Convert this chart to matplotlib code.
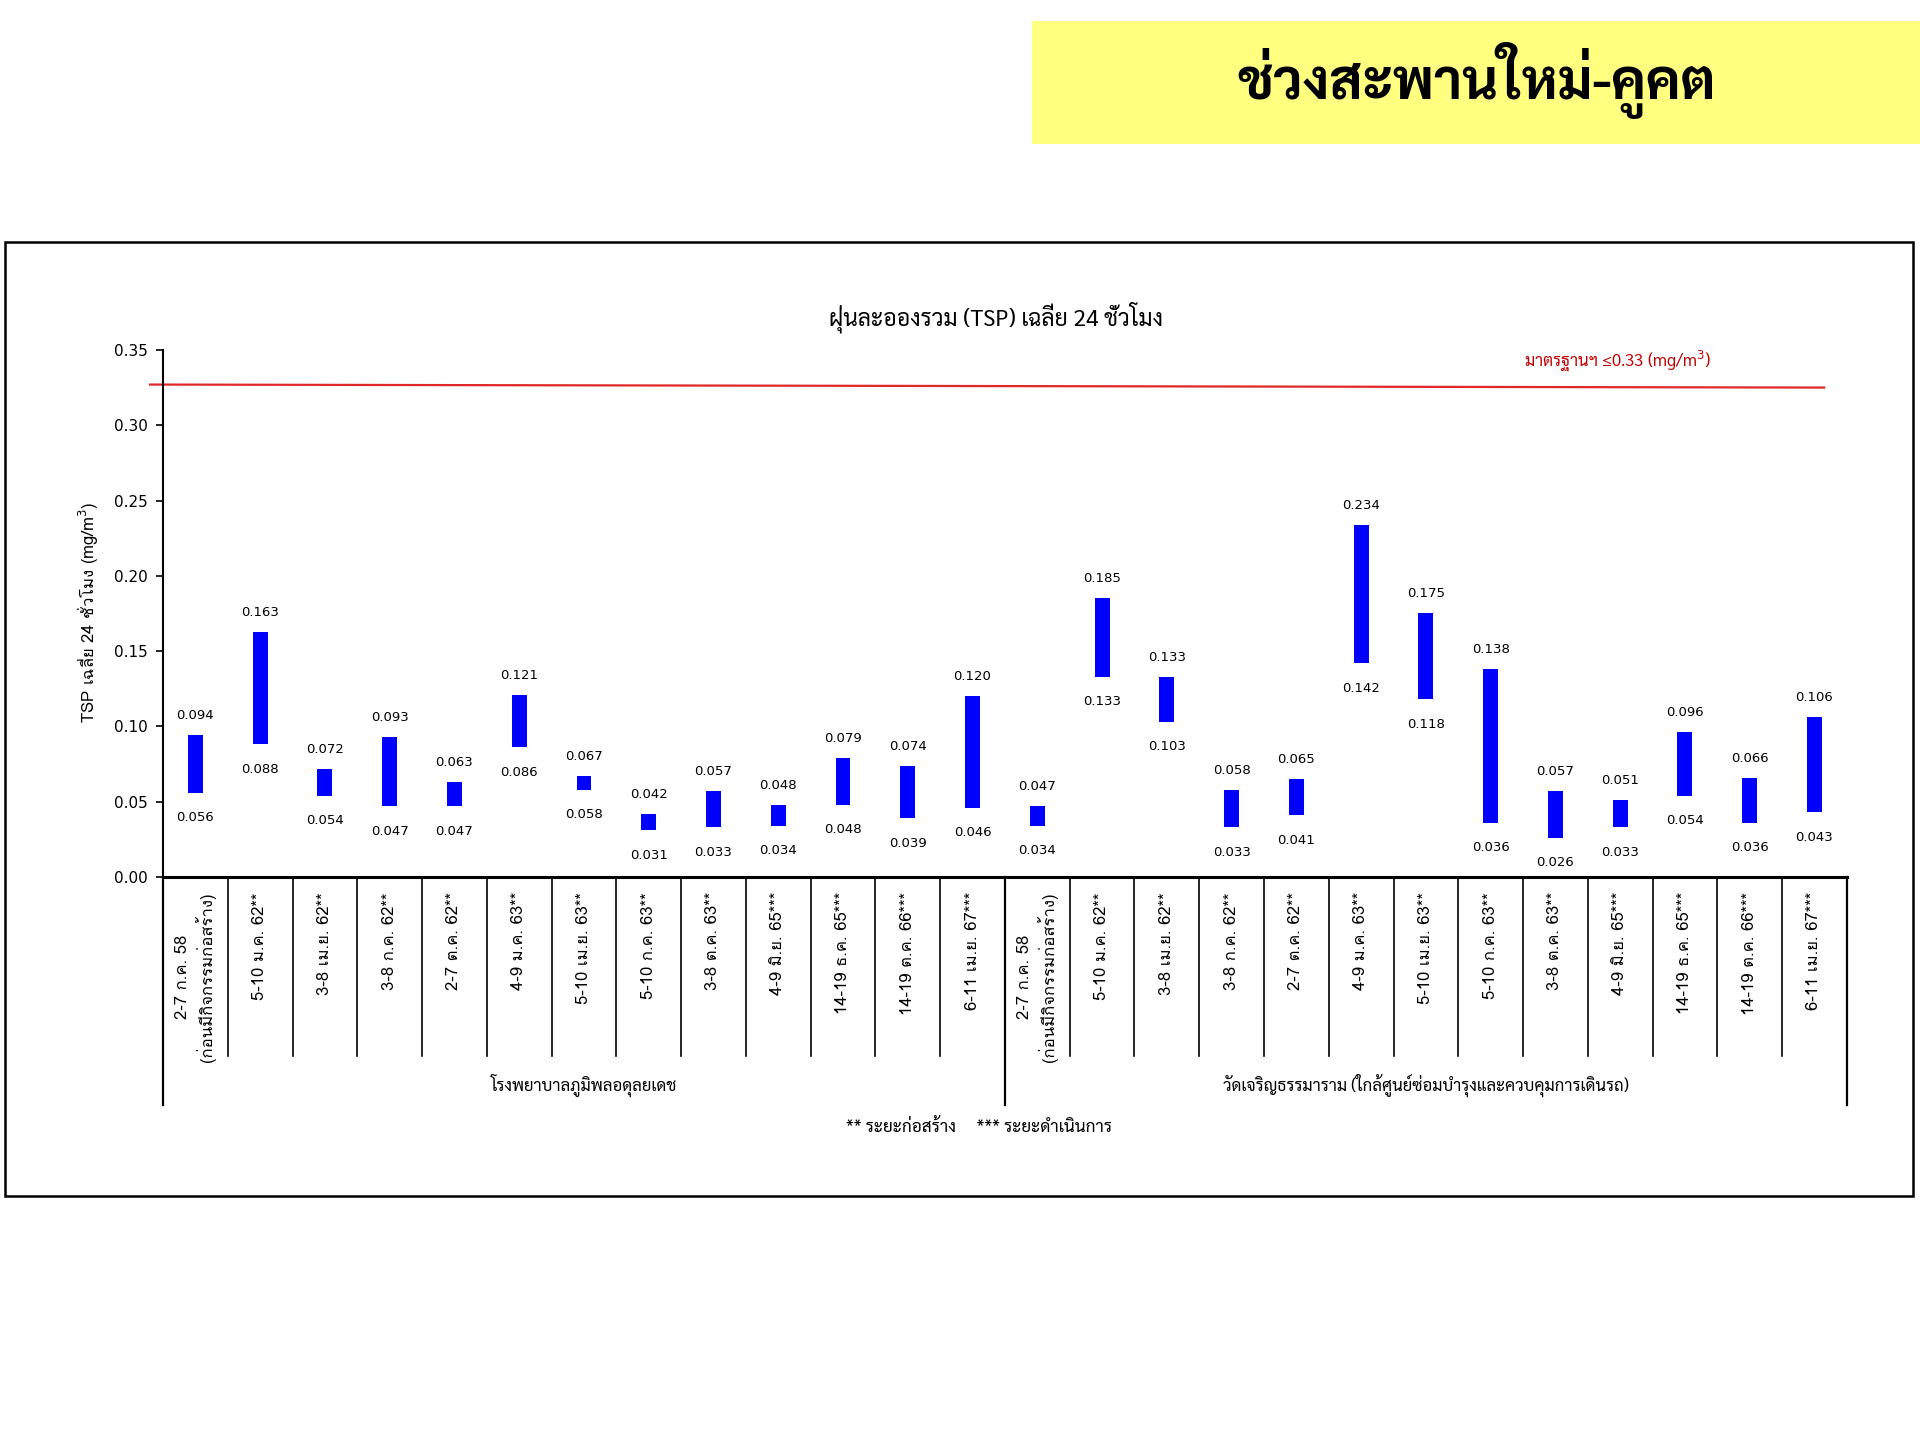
import matplotlib
matplotlib.use("Agg")
import matplotlib.pyplot as plt
from matplotlib.patches import Rectangle
import numpy as np

# ---------------- data ----------------
dates = ["2-7 ก.ค. 58\n(ก่อนมีกิจกรรมก่อสร้าง)", "5-10 ม.ค. 62**", "3-8 เม.ย. 62**", "3-8 ก.ค. 62**",
         "2-7 ต.ค. 62**", "4-9 ม.ค. 63**", "5-10 เม.ย. 63**", "5-10 ก.ค. 63**", "3-8 ต.ค. 63**",
         "4-9 มิ.ย. 65***", "14-19 ธ.ค. 65***", "14-19 ต.ค. 66***", "6-11 เม.ย. 67***"]
stations = ["โรงพยาบาลภูมิพลอดุลยเดช", "วัดเจริญธรรมาราม (ใกล้ศูนย์ซ่อมบำรุงและควบคุมการเดินรถ)"]
max_hosp = [0.094, 0.163, 0.072, 0.093, 0.063, 0.121, 0.067, 0.042, 0.057, 0.048, 0.079, 0.074, 0.120]
min_hosp = [0.056, 0.088, 0.054, 0.047, 0.047, 0.086, 0.058, 0.031, 0.033, 0.034, 0.048, 0.039, 0.046]
max_wat = [0.047, 0.185, 0.133, 0.058, 0.065, 0.234, 0.175, 0.138, 0.057, 0.051, 0.096, 0.066, 0.106]
min_wat = [0.034, 0.133, 0.103, 0.033, 0.041, 0.142, 0.118, 0.036, 0.026, 0.033, 0.054, 0.036, 0.043]
standard = 0.33
std_drawn = [0.327, 0.325]   # where the standard line sits in the picture (slightly tilted)
yticks = [0.00, 0.05, 0.10, 0.15, 0.20, 0.25, 0.30, 0.35]

header = "ช่วงสะพานใหม่-คูคต"
title = "ฝุ่นละอองรวม (TSP) เฉลี่ย 24 ชั่วโมง"
ylabel = "TSP เฉลี่ย 24 ชั่วโมง (mg/m$^3$)"
std_label = "มาตรฐานฯ ≤0.33 (mg/m$^3$)"
footer = "** ระยะก่อสร้าง     *** ระยะดำเนินการ"

# ---------------- fonts ----------------
F_COND = ['Laksaman', 'Sarabun', 'TH Sarabun New', 'Loma', 'DejaVu Sans']
F_TAHO = ['Waree', 'Tahoma', 'Loma', 'DejaVu Sans']
F_NUM = ['DejaVu Sans']
plt.rcParams['font.family'] = F_TAHO
plt.rcParams['mathtext.fontset'] = 'dejavusans'

labels = dates + dates
vmax = np.array(max_hosp + max_wat)
vmin = np.array(min_hosp + min_wat)
n = len(labels)
x = np.arange(n)

fig = plt.figure(figsize=(19.2, 14.4), dpi=100)
fig.patch.set_facecolor('white')

# header yellow box
fig.patches.append(Rectangle((0.5375, 0.900), 0.4625, 0.0854, transform=fig.transFigure,
                             facecolor='#FFFF80', edgecolor='none', zorder=0))
fig.text(0.769, 0.944, header, family=F_COND, fontsize=40, fontweight='bold',
         ha='center', va='center', color='black')

# outer frame
fig.patches.append(Rectangle((0.0026, 0.1694), 0.9938, 0.6626, transform=fig.transFigure,
                             facecolor='none', edgecolor='black', linewidth=1.8, zorder=0))

ax = fig.add_axes([0.0849, 0.391, 0.877, 0.366])
ax.bar(x, vmax - vmin, bottom=vmin, width=0.23, color='#0000FF', zorder=3)

for xi, hi, lo in zip(x, vmax, vmin):
    ax.annotate(f"{hi:.3f}", (xi, hi), xytext=(0, 14), textcoords='offset points',
                ha='center', va='center', fontsize=9.5, family=F_NUM)
    ax.annotate(f"{lo:.3f}", (xi, lo), xytext=(0, -18), textcoords='offset points',
                ha='center', va='center', fontsize=9.5, family=F_NUM)

ax.set_xlim(-0.5, n - 0.5)
ax.set_ylim(0, 0.35)
ax.set_yticks(yticks)
ax.set_yticklabels([f"{v:.2f}" for v in yticks], fontsize=11, family=F_NUM)
ax.tick_params(axis='y', direction='out', length=5, width=1.2, pad=6)
ax.set_xticks(x)
ax.set_xticklabels(labels, rotation=90, fontsize=12, va='top', ha='center', multialignment='center')
ax.tick_params(axis='x', length=0, pad=11)
for s in ['top', 'right']:
    ax.spines[s].set_visible(False)
ax.spines['left'].set_linewidth(1.5)
ax.spines['bottom'].set_linewidth(2.2)

# standard line
ax.plot([-0.7, 25.15], std_drawn, color='#E02828', linewidth=1.6, clip_on=False, zorder=2)
ax.text(23.4, standard + 0.013, std_label, color='#C00000', fontsize=12, family=F_COND,
        ha='right', va='center')

# category separators
tr = ax.get_xaxis_transform()
for k in range(n + 1):
    xb = k - 0.5
    if k in (0, 13, n):
        ax.plot([xb, xb], [0, -0.433], transform=tr, color='black', linewidth=1.6, clip_on=False)
    else:
        ax.plot([xb, xb], [0, -0.340], transform=tr, color='black', linewidth=1.2, clip_on=False)

ax.text(6, -0.395, stations[0], transform=tr, ha='center', va='center', fontsize=12, family=F_COND)
ax.text(19, -0.395, stations[1], transform=tr, ha='center', va='center', fontsize=12, family=F_COND)

fig.text(0.519, 0.780, title, ha='center', va='center', fontsize=16.5, family=F_COND)
fig.text(0.0458, 0.575, ylabel, rotation=90, ha='center', va='center', fontsize=12)
fig.text(0.510, 0.2167, footer, ha='center', va='center', fontsize=12.3, family=F_COND)

fig.savefig("out.png", dpi=100)
